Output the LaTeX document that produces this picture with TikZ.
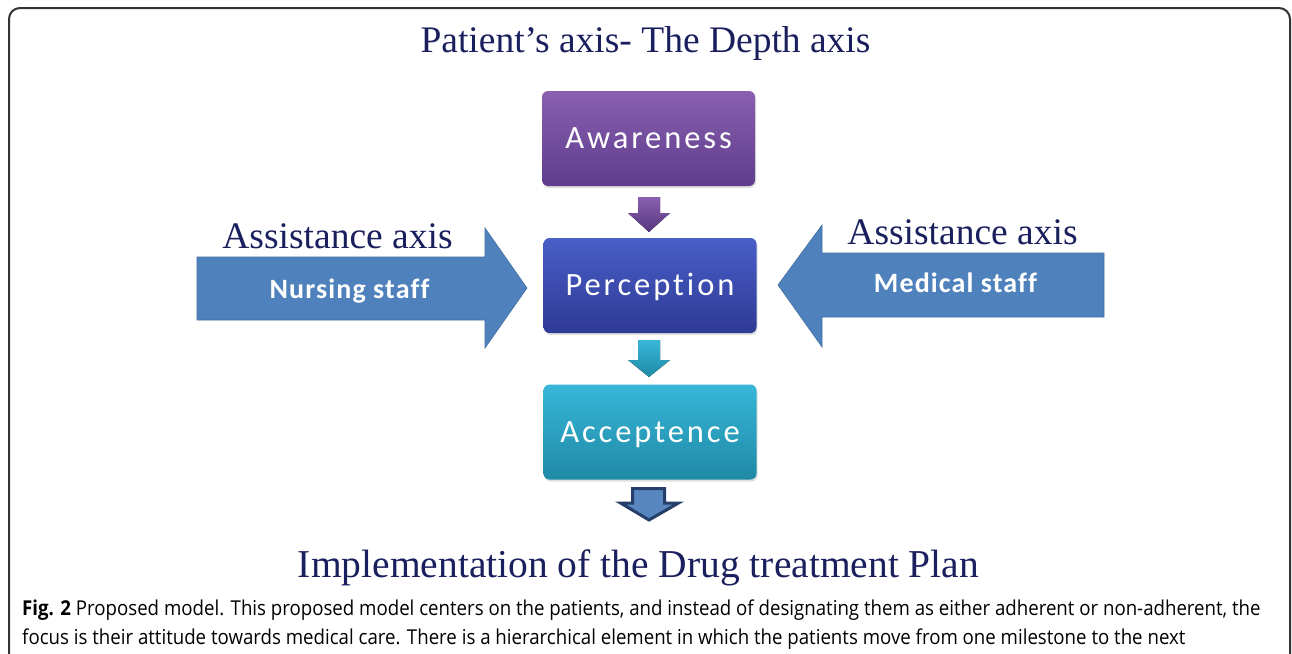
\documentclass[tikz,border=0pt]{standalone}
\usepackage{fontspec}
\setmainfont{Liberation Serif}
\newfontfamily\boxfont[LetterSpace=9,RawFeature=-liga]{Carlito}
\newfontfamily\labelfont[LetterSpace=4,RawFeature=-liga]{Carlito}
\newfontfamily\capfont[FakeStretch=0.91]{Open Sans}
\usetikzlibrary{shadows}

\definecolor{navy}{HTML}{1A1F5E}
\definecolor{officeblue}{HTML}{4F81BD}
\definecolor{awtop}{HTML}{8A5FB0}
\definecolor{awbot}{HTML}{5F3D8C}
\definecolor{petop}{HTML}{4A5EC8}
\definecolor{pebot}{HTML}{2E3A94}
\definecolor{actop}{HTML}{38B6D8}
\definecolor{acbot}{HTML}{1F8AA6}
\definecolor{framegray}{HTML}{333333}
\definecolor{outlinenavy}{HTML}{263F6A}

\tikzset{
  stage/.style={rounded corners=6pt, minimum width=213pt, minimum height=95pt,
    inner sep=0pt, text=white, text height=20pt, text depth=0pt,
    font=\boxfont\fontsize{32.5}{36}\selectfont,
    drop shadow={opacity=0.25, shadow xshift=1pt, shadow yshift=-2pt}},
  heading/.style={text=navy, inner sep=0pt, anchor=base},
  axislabel/.style={heading, font=\fontsize{37.5}{40}\selectfont},
  stafflabel/.style={text=white, inner sep=0pt, anchor=base,
    font=\labelfont\bfseries\fontsize{28}{30}\selectfont},
  bigarrow/.style={fill=officeblue, draw=officeblue!85!black, line width=0.6pt},
  captionline/.style={anchor=base west, inner sep=0pt, text=black,
    font=\capfont\fontsize{20.5}{29}\selectfont},
}

\begin{document}
\begin{tikzpicture}[x=1pt, y=-1pt]
  \useasboundingbox (0,0) rectangle (1292,653);
  \clip (0,0) rectangle (1292,653);
  \fill[white] (0,0) rectangle (1292,653);

  % figure frame
  \draw[line width=2pt, framegray, rounded corners=11pt] (9,8) rectangle (1290,720);

  % title
  \node[axislabel] (title) at (645.5,52) {Patient’s axis- The Depth axis};

  % the three stages
  \node[stage, top color=awtop, bottom color=awbot] (aw) at (648.5,138.5) {Awareness};
  \node[stage, top color=petop, bottom color=pebot] (pe) at (650,285.5) {Perception};
  \node[stage, top color=actop, bottom color=acbot] (ac) at (650,432) {Acceptence};

  % block arrows between stages
  \fill[top color=awtop, bottom color=awbot!90!black]
    (638,197) -- (660,197) -- (660,213) -- (670,213) -- (649,232)
    -- (628,213) -- (638,213) -- cycle;
  \fill[top color=actop, bottom color=acbot]
    (638,340) -- (660,340) -- (660,360) -- (670,360) -- (649,377)
    -- (628,360) -- (638,360) -- cycle;
  \filldraw[fill=officeblue!95!white, draw=outlinenavy, line width=3pt, line join=miter]
    (632.5,488.5) -- (664.5,488.5) -- (664.5,503) -- (678.5,503) -- (649,520)
    -- (620.5,503) -- (632.5,503) -- cycle;

  % assistance axes
  \filldraw[bigarrow]
    (197,257) -- (485,257) -- (485,228) -- (527,288) -- (485,348)
    -- (485,320) -- (197,320) -- cycle;
  \filldraw[bigarrow]
    (1104,253) -- (822,253) -- (822,225) -- (778,285) -- (822,347)
    -- (822,317) -- (1104,317) -- cycle;

  \node[axislabel] (leftaxis) at (337.5,248) {Assistance axis};
  \node[axislabel] (rightaxis) at (962.5,244) {Assistance axis};
  \node[stafflabel] (nursing) at (349.5,298) {Nursing staff};
  \node[stafflabel] (medical) at (955.5,292) {Medical staff};

  % outcome
  \node[heading, font=\fontsize{39.5}{42}\selectfont] (plan) at (638.5,577)
    {Implementation of the Drug treatment Plan};

  % caption
  \node[captionline] (caption1) at (22,615)
    {\textbf{Fig. 2} Proposed model. This proposed model centers on the patients, and instead of designating them as either adherent or non-adherent, the};
  \node[captionline] (caption2) at (22,644)
    {focus is their attitude towards medical care. There is a hierarchical element in which the patients move from one milestone to the next};
\end{tikzpicture}
\end{document}
